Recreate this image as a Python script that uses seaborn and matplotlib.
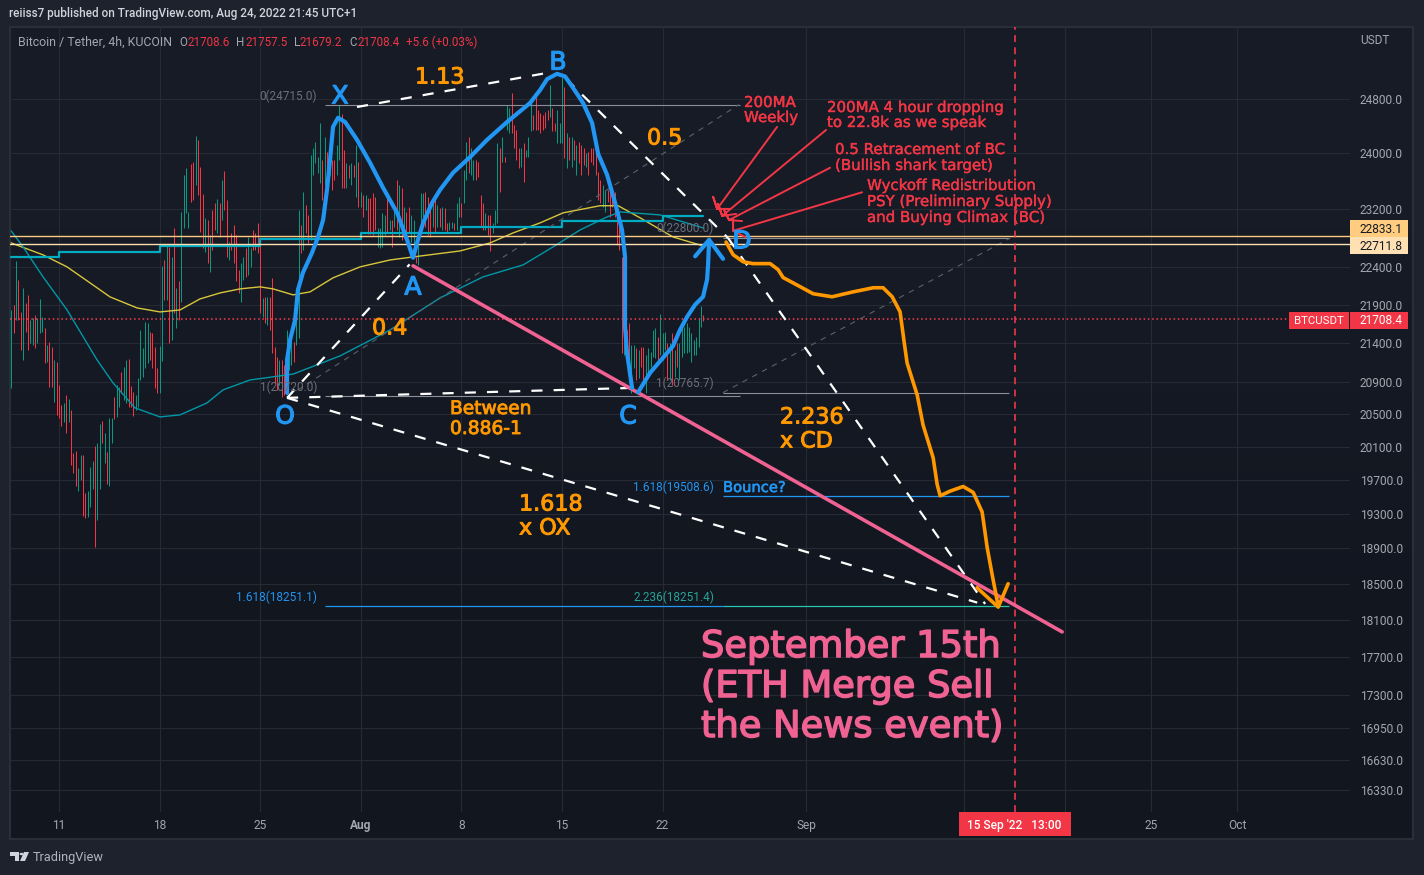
import numpy as np
import pandas as pd
import matplotlib
matplotlib.use("Agg")
import matplotlib.pyplot as plt
from matplotlib.colors import LinearSegmentedColormap
from matplotlib.ticker import NullLocator
import matplotlib.patheffects as pe
import seaborn as sns
from matplotlib.patches import Rectangle, Polygon, Circle

W, H = 1424, 875

# 4h candles, x is days since 1 Jul 2022
first_day = 6.67
highs = [
    21830, 21900, 22490, 22235, 21805, 22125, 21925, 22030, 21700, 21725,
    21765, 21725, 21975, 21740, 21595, 21375, 21415, 21350, 21180, 21155,
    20862, 20612, 20637, 20737, 20687, 20550, 20025, 20050, 19845, 20000,
    20000, 19545, 19570, 19855, 19930, 20110, 20145, 20375, 20410, 20265,
    20035, 20450, 20450, 20710, 20862, 20838, 21028, 21090, 21180, 21193,
    20850, 20775, 20737, 20950, 21570, 21335, 21675, 21660, 21545, 21530,
    21350, 21078, 21362, 22420, 22503, 22705, 22680, 22545, 22940, 22125,
    22210, 23160, 23690, 23790, 23160, 23845, 23870, 24250, 24195, 23800,
    23420, 23080, 23052, 22845, 23190, 23290, 23345, 23290, 23617, 23745,
    23332, 22750, 22870, 22983, 22845, 22369, 22465, 22545, 22665, 22815,
    22665, 22914, 22870, 23010, 22705, 21990, 22005, 22005, 22005, 22250,
    21350, 21220, 21180, 21180, 21115, 21570, 21505, 21440, 21415, 21700,
    23190, 22983, 23445, 23262, 23122, 23975, 24078, 24165, 23945, 24443,
    23903, 24240, 24020, 24050, 23903, 23903, 24120, 24710, 24575, 24050,
    23860, 23830, 23860, 23830, 24120, 23875, 23445, 23405, 23405, 23360,
    23360, 23430, 23375, 22940, 22940, 23150, 23122, 23405, 23052, 23052,
    23235, 23617, 23545, 23505, 23235, 23160, 23235, 23122, 23052, 22545,
    22885, 23430, 23430, 23445, 23375, 23235, 23332, 23332, 23262, 23220,
    23235, 23220, 23010, 23025, 23025, 23010, 23290, 23375, 23290, 23760,
    24165, 24240, 24078, 23903, 23903, 23875, 23405, 23290, 23150, 23122,
    23122, 23010, 23190, 24150, 24078, 24240, 23945, 24710, 24665, 24890,
    24413, 24340, 24078, 24078, 24150, 24050, 24240, 24755, 24560, 24830,
    24635, 24590, 24560, 24605, 24635, 25010, 24665, 24443, 24635, 24443,
    25165, 24985, 24295, 24240, 24240, 24195, 24120, 24165, 24120, 24078,
    24005, 24020, 24078, 24078, 24050, 23730, 23617, 23545, 23475, 23475,
    23590, 23445, 23445, 23235, 22983, 22545, 21610, 21570, 21660, 21375,
    21375, 21335, 21310, 21350, 21350, 21245, 21335, 21285, 21570, 21595,
    21480, 21780, 21530, 21545, 21400, 21400, 21530, 21310, 21400, 21400,
    21610, 21610, 21660, 21610, 21530, 21440, 21480, 21725, 21885, 21757.5,
]
lows = [
    20825, 21530, 21700, 21700, 21310, 21180, 21545, 21310, 21400, 21375,
    21335, 21400, 21530, 21545, 21140, 21155, 20835, 20835, 20650, 20487,
    20450, 20350, 20400, 20265, 20400, 19880, 19785, 19620, 19565, 19700,
    19275, 19250, 19265, 19380, 19590, 18910, 19228, 19590, 20145, 19905,
    19650, 19620, 20145, 20438, 20463, 20587, 20762, 20675, 20637, 20587,
    20587, 20475, 20550, 20587, 20925, 20965, 21078, 21140, 21180, 21078,
    20825, 20762, 20762, 21168, 21965, 21965, 21400, 21440, 21790, 21595,
    21700, 21940, 22940, 23150, 22940, 23305, 23332, 23545, 23405, 22885,
    22665, 22610, 22465, 22340, 22640, 22914, 22870, 22815, 23052, 23190,
    22545, 22503, 22640, 22465, 22210, 22055, 21940, 22235, 22275, 22302,
    22410, 22640, 22640, 22600, 21790, 21740, 21660, 21637, 21570, 21270,
    20888, 20800, 20862, 20710, 20737, 20925, 21053, 21115, 21155, 21375,
    21465, 22600, 22640, 22870, 22733, 22776, 23690, 23860, 23718, 23575,
    23332, 23545, 23660, 23690, 23475, 23617, 23690, 23903, 23505, 23505,
    23505, 23645, 23545, 23660, 23375, 23235, 23235, 23095, 23190, 22855,
    22855, 22845, 22914, 22680, 22665, 22680, 22845, 22870, 22914, 22680,
    22955, 22914, 22815, 22776, 22914, 22776, 22870, 22750, 22530, 22465,
    22436, 22870, 23095, 22955, 22845, 22815, 22955, 22885, 22955, 22955,
    22914, 22914, 22870, 22914, 22940, 22914, 22914, 23095, 23095, 23290,
    23617, 23718, 23690, 23617, 23617, 23660, 22955, 22914, 22914, 22845,
    22625, 22870, 22983, 23010, 23445, 23875, 23875, 24340, 24295, 24295,
    24078, 23903, 23790, 23800, 23590, 23945, 23945, 24325, 24340, 24340,
    24340, 24295, 24340, 24370, 24487, 24530, 24325, 24325, 24150, 24150,
    24150, 23930, 23790, 23903, 23800, 23903, 23690, 23860, 23690, 23830,
    23800, 23690, 23875, 23830, 23690, 23332, 23290, 23235, 23160, 23305,
    23095, 23235, 23095, 22705, 22640, 21270, 21245, 21270, 21053, 20762,
    21078, 20925, 20950, 21090, 20900, 20762, 20990, 21090, 21220, 21205,
    21180, 21245, 21180, 21310, 20925, 20925, 20862, 20965, 21090, 20925,
    21220, 21270, 21270, 21285, 21155, 21245, 21245, 21350, 21610, 21679.2,
]
directions = (
    "grgrrgrrgg" "rgggrgrrgr" "rrgrgrrrgg" "rrgggrggrg" "rggrggrggr"
    "rrggggggrr" "rrggrgrgrg" "rggggrrgrr" "rgrgrrgrgr" "rgrrrrggrg"
    "grrrrgrgrr" "rrgrrgggrg" "grgrrggggg" "rgrgrrggrr" "grgrgrgrgr"
    "rrrggggrgr" "grgrgrrggr" "gggrrrgrgr" "grrggrggrg" "grggrrrrgr"
    "rgggrgrggr" "rrrgrgggrr" "rrrrrgrrgg" "grgrgrgrrr" "grrrrrrggr"
    "rrrrrrgrrg" "grgrrggggg" "rgggrgrgrg" "gggggggggr"
)

# moving averages
yellow_days = [6.67, 8.89, 10.56, 12.16, 13.55, 15.43, 17.03, 18.42, 19.81, 21.21, 22.60, 23.99, 24.89, 26.29, 27.47,
               29.07, 30.95, 33.04, 34.64, 37.91, 40.00, 41.60, 43.48, 45.08, 47.65, 48.91, 50.44, 52.73, 54.82]
yellow_ma = [22733, 22569, 22406, 22190, 22003, 21857, 21804, 21830, 21976, 22056, 22110, 22137, 22110, 22030, 22070,
             22258, 22406, 22500, 22541, 22623, 22733, 22871, 23010, 23150, 23250, 23250, 23080, 22815, 22692]
teal_days = [6.67, 7.50, 8.89, 10.56, 12.65, 13.76, 15.29, 17.03, 18.42, 20.30, 21.41, 23.29, 26.29, 29.56,
             33.04, 36.52, 39.51, 42.30, 44.38, 46.26, 48.14, 49.05, 51.83, 54.82]
teal_ma = [22899, 22678, 22271, 21830, 21180, 20888, 20575, 20463, 20488, 20637, 20800, 20925, 21000, 21232,
           21568, 21990, 22271, 22433, 22678, 22912, 23093, 23163, 23121, 22940]
weekly_days = [6.67, 10, 17, 24, 31, 38, 45, 52, 54.85]
weekly_ma = [22541, 22610, 22692, 22788, 22871, 22955, 23037, 23107, 23107]

# hand drawn harmonic pattern
blue_days = [25.87, 25.87, 26.08, 26.43, 26.63, 26.98, 27.61, 28.03, 28.38, 28.65, 28.86, 29.07, 29.42, 29.91, 30.74,
             31.65, 32.55, 33.53, 34.22, 34.64, 34.92, 35.34, 35.96, 36.52, 37.42, 38.61, 39.79, 41.18, 42.78, 43.48,
             43.97, 44.66, 45.22, 45.78, 46.47, 47.10, 47.52, 48.14, 48.70, 49.18, 49.39, 49.39, 49.39, 49.53, 49.88]
blue_prices = [20762, 21180, 21440, 21700, 22100, 22330, 22600, 22815, 23052, 23475, 23903, 24385, 24520, 24457, 24195,
               23860, 23505, 23150, 22776, 22530, 22735, 23010, 23290, 23475, 23718, 23945, 24195, 24457, 24740, 24935,
               25100, 25180, 25140, 24965, 24740, 24443, 23990, 23690, 23290, 22914, 22545, 22055, 21610, 21270, 20825]
rebound_days = [50.30, 51.13, 51.97, 52.73, 53.22, 53.71, 54.27, 54.82, 55.10, 55.17, 55.24]
rebound_prices = [20770, 21015, 21195, 21360, 21570, 21740, 21900, 22005, 22235, 22436, 22775]
rebound_head_days = [54.27, 55.24, 56.21]
rebound_head_prices = [22550, 22775, 22515]

orange_days = [56.42, 56.91, 57.61, 58.30, 59.49, 60.04, 60.39, 61.57, 62.48, 63.80, 65.26, 66.66, 67.35, 67.98, 68.53,
               68.81, 69.02, 69.72, 70.13, 70.83, 71.11, 71.32, 72.01, 72.92, 73.62, 74.24, 74.59, 74.94, 75.36]
orange_prices = [22745, 22572, 22475, 22450, 22450, 22369, 22262, 22140, 22045, 22005, 22070, 22125, 22125, 22005, 21805,
                 21415, 21140, 20737, 20363, 19965, 19645, 19510, 19565, 19620, 19550, 19320, 18910, 18600, 18250]
orange_head_days = [73.89, 75.36, 76.05]
orange_head_prices = [18455, 18240, 18500]

pink_days = [34.64, 79.81]
pink_prices = [22420, 17969]

# pattern pivots for the dashed legs
leg_days = {"XB": [30.74, 44.38], "BD": [45.30, 56.56], "DE": [56.56, 74.45], "OA": [25.87, 34.40],
            "OC": [25.87, 49.88], "OE": [25.87, 73.90]}
leg_prices = {"XB": [24680, 25210], "BD": [25100, 22800], "DE": [22800, 18275], "OA": [20700, 22440],
              "OC": [20700, 20825], "OE": [20700, 18290]}

# fib levels from the two tools
left_fib_days = [28.5, 57.4]
left_fib_levels = [24715.0, 20720.0]
right_fib_days = [56.2, 76.1]
right_fib_levels = [22800.0, 20765.7]
bounce_level = 19508.6
target_days = [28.5, 56.2, 76.1]
target_levels = [18251.1, 18251.4]
diag_days = [[25.95, 57.3], [56.2, 76.2]]
diag_prices = [[20720, 24715], [20765.7, 22800]]

# red arrows: tail, tip, leg, tip, leg
arrow_days = [[59.97, 55.80, 55.52, 55.80, 56.70], [63.38, 56.15, 55.87, 56.15, 57.12],
              [63.66, 56.63, 56.28, 56.63, 57.54], [65.89, 56.91, 56.91, 56.91, 57.75]]
arrow_prices = [[24385, 23205, 23375, 23205, 23205], [24340, 23107, 23275, 23107, 23135],
                [23790, 23050, 23190, 23050, 23035], [23440, 22900, 23050, 22900, 22815]]

last_price = 21708.4
resistance_a = 22833.1
resistance_b = 22711.8
merge_day = 76.54

price_ticks = [24800, 24000, 23200, 22400, 21900, 21400, 20900, 20500, 20100, 19700, 19300, 18900, 18500, 18100,
               17700, 17300, 16950, 16630, 16330]
date_ticks = [10, 17, 24, 31, 38, 45, 52, 62, 73, 80, 86, 92]
date_labels = ["11", "18", "25", "Aug", "8", "15", "22", "Sep", "", "", "25", "Oct"]

CHROME = "#1e222d"
GRID = "#262a35"
AXIS_TEXT = "#a4a7b0"
BLUE = "#2196f3"
ORANGE = "#ff9800"
RED = "#f23645"
PINK = "#f06292"
GREEN = "#089981"
TEAL_FIB = "#26c6b0"
TICK_FONT = "Roboto"

sns.set_theme(style="dark", rc={"figure.facecolor": CHROME, "axes.facecolor": "#151924", "font.family": "DejaVu Sans",
                                "axes.edgecolor": "#151924", "axes.grid": False})

fig = plt.figure(figsize=(W / 100, H / 100), dpi=100)


def px(x, y):
    return x / W, 1 - y / H


def label(x, y, s, color, size, family="DejaVu Sans", ha="left", weight="normal", stroke=0):
    # drawn notes sit a touch lower than their centre box
    if family == "DejaVu Sans":
        y += 1.5
    t = fig.text(*px(x, y), s, color=color, fontsize=size, family=family, ha=ha, va="center", weight=weight, zorder=20)
    if stroke:
        t.set_path_effects([pe.withStroke(linewidth=stroke, foreground=color)])


def box(x0, y0, x1, y1, color):
    fig.add_artist(Rectangle(px(x0, y1), (x1 - x0) / W, (y1 - y0) / H, transform=fig.transFigure,
                             facecolor=color, edgecolor="none", zorder=15))


def line(ax, x, y, color, width, **kw):
    sns.lineplot(x=x, y=y, sort=False, estimator=None, errorbar=None, color=color, linewidth=width, ax=ax, legend=False,
                 solid_joinstyle="round", solid_capstyle="round", **kw)


# panel background fades slightly towards the bottom
bg = fig.add_axes([10 / W, 1 - 839 / H, 1403 / W, 812 / H], zorder=-2)
bg.imshow([[0.0], [1.0]], cmap=LinearSegmentedColormap.from_list("panel", ["#171b26", "#12161f"]), aspect="auto",
          interpolation="bilinear")
bg.set_xticks([])
bg.set_yticks([])
for spine in bg.spines.values():
    spine.set_color("#2a2e39")
    spine.set_linewidth(1.5)

left, top, right, bottom = 10, 27, 1350, 812
ax = fig.add_axes([left / W, 1 - bottom / H, (right - left) / W, (bottom - top) / H])
ax.patch.set_alpha(0)

# candles
candles = pd.DataFrame({"high": highs, "low": lows, "dir": list(directions)})
candles["day"] = first_day + np.arange(len(candles)) / 6
for code, colour in (("g", GREEN), ("r", RED)):
    part = candles[candles["dir"] == code]
    wicks = ax.vlines(part["day"], part["low"], part["high"], color=colour, linewidth=0.72, zorder=2)
    wicks.set_snap(True)

# indicators
line(ax, yellow_days, yellow_ma, "#d8c63a", 1.0, zorder=3)
line(ax, teal_days, teal_ma, "#0097a7", 1.0, zorder=3)
ax.step(weekly_days, weekly_ma, where="post", color="#00acc1", linewidth=1.6, zorder=3)

# levels
ax.axhline(last_price, color="#ff3b4e", linewidth=1.1, linestyle=(0, (1, 1.8)), zorder=3, xmax=0.955)
ax.axhline(resistance_a, color="#ffcc80", linewidth=1.0, zorder=4)
ax.axhline(resistance_b, color="#ffe0b2", linewidth=1.0, zorder=4)
ax.axvline(merge_day, color="#ff3b4e", linewidth=1.1, linestyle=(0, (4.5, 3.5)), zorder=4)

for level in left_fib_levels:
    ax.hlines(level, left_fib_days[0], left_fib_days[1], color="#8b8e98", linewidth=0.8, zorder=3)
for level in right_fib_levels:
    ax.hlines(level, right_fib_days[0], right_fib_days[1], color="#8b8e98", linewidth=0.8, zorder=3)
ax.hlines(bounce_level, right_fib_days[0], right_fib_days[1], color=BLUE, linewidth=0.9, zorder=3)
ax.hlines(target_levels[0], target_days[0], target_days[1], color=BLUE, linewidth=0.9, zorder=3)
ax.hlines(target_levels[1], target_days[1], target_days[2], color=TEAL_FIB, linewidth=0.9, zorder=3)
for dx, dy in zip(diag_days, diag_prices):
    line(ax, dx, dy, "#5d606b", 0.8, linestyle=(0, (5, 5)), zorder=3)

# pattern
for leg in leg_days:
    line(ax, leg_days[leg], leg_prices[leg], "white", 1.6, linestyle=(0, (5, 5)), zorder=5)
line(ax, pink_days, pink_prices, PINK, 2.6, zorder=6)
line(ax, blue_days, blue_prices, BLUE, 3.0, zorder=7)
line(ax, rebound_days, rebound_prices, BLUE, 3.0, zorder=7)
line(ax, rebound_head_days, rebound_head_prices, BLUE, 3.0, zorder=7)
line(ax, orange_days, orange_prices, ORANGE, 2.6, zorder=7)
line(ax, orange_head_days, orange_head_prices, ORANGE, 2.6, zorder=7)
for dx, dy in zip(arrow_days, arrow_prices):
    line(ax, dx, dy, RED, 1.4, zorder=8)

ax.set_yscale("log")
ax.set_xlim(6.59, 99.84)
ax.set_ylim(16115, 25903)
ax.set_yticks(price_ticks)
ax.set_yticklabels([f"{p:.1f}" for p in price_ticks], family=TICK_FONT, fontsize=8.6, color=AXIS_TEXT)
ax.yaxis.set_minor_locator(NullLocator())
ax.yaxis.tick_right()
ax.set_xticks(date_ticks)
ax.set_xticklabels(date_labels, family=TICK_FONT, fontsize=8.6, color=AXIS_TEXT)
ax.get_xticklabels()[3].set_fontweight("bold")
ax.tick_params(axis="both", length=0)
ax.tick_params(axis="y", pad=7)
ax.tick_params(axis="x", pad=5)
ax.grid(True, color=GRID, linewidth=0.8)
ax.set_axisbelow(True)
for spine in ax.spines.values():
    spine.set_visible(False)
ax.set_xlabel("")
ax.set_ylabel("")

# page header
label(9, 14, "reiiss7 published on TradingView.com, Aug 24, 2022 21:45 UTC+1", "#d1d4dc", 8.5, TICK_FONT, weight="medium")
label(18, 42, "Bitcoin / Tether, 4h, KUCOIN", "#a4a7b0", 8.9, TICK_FONT)
for x, s, c in [(179, "O", "#a4a7b0"), (187, "21708.6", RED), (236, "H", "#a4a7b0"), (245, "21757.5", RED),
                (294, "L", "#a4a7b0"), (300, "21679.2", RED), (349, "C", "#a4a7b0"), (357, "21708.4", RED),
                (406, "+5.6 (+0.03%)", RED)]:
    label(x, 42, s, c, 8.4, TICK_FONT)
label(1360, 41, "USDT", AXIS_TEXT, 8.6, TICK_FONT)

# price tags
box(1350, 220, 1408, 237, "#ffcc80")
box(1350, 237, 1408, 254, "#ffe0b2")
box(1350, 312, 1408, 329, RED)
box(1289, 312, 1349, 329, RED)
label(1360, 229, "22833.1", "#131722", 8.6, TICK_FONT)
label(1360, 246, "22711.8", "#131722", 8.6, TICK_FONT)
label(1360, 321, "21708.4", "white", 8.6, TICK_FONT)
label(1294, 321, "BTCUSDT", "white", 8.2, TICK_FONT)
box(959, 812, 1071, 836, RED)
label(967, 826, "15 Sep '22   13:00", "white", 8.6, TICK_FONT, weight="medium")

# fib labels
label(317, 96, "0(24715.0)", "#6d707b", 8.5, TICK_FONT, ha="right")
label(317, 387, "1(20720.0)", "#6d707b", 8.5, TICK_FONT, ha="right")
label(317, 597, "1.618(18251.1)", BLUE, 8.5, TICK_FONT, ha="right")
label(714, 597, "2.236(18251.4)", "#26a69a", 8.5, TICK_FONT, ha="right")
label(714, 487, "1.618(19508.6)", BLUE, 8.5, TICK_FONT, ha="right")
label(714, 228, "0(22800.0)", "#6d707b", 8.5, TICK_FONT, ha="right")
label(714, 383, "1(20765.7)", "#6d707b", 8.5, TICK_FONT, ha="right")
label(723, 486, "Bounce?", BLUE, 10.6, stroke=0.4)

# pattern letters
for x, y, s in [(340, 95, "X"), (558, 61, "B"), (413, 286, "A"), (285, 415, "O"), (628, 415, "C"), (742, 240, "D")]:
    label(x, y, s, BLUE, 18, ha="center", stroke=0.9)

# ratios
for x, y, s in [(415, 76, "1.13"), (647, 137, "0.5"), (372, 327, "0.4"), (780, 416, "2.236"), (780, 440, "x CD"),
                (519, 503, "1.618"), (519, 527, "x OX")]:
    label(x, y, s, ORANGE, 16, stroke=0.7)
label(450, 407, "Between", ORANGE, 13.4, stroke=0.6)
label(450, 427, "0.886-1", ORANGE, 13.4, stroke=0.6)

# notes
for x, y, s in [(744, 101, "200MA"), (744, 116, "Weekly"), (827, 106, "200MA 4 hour dropping"), (827, 121, "to 22.8k as we speak"),
                (835, 148, "0.5 Retracement of BC"), (835, 164, "(Bullish shark target)"), (867, 184, "Wyckoff Redistribution"),
                (867, 200, "PSY (Preliminary Supply)"), (867, 216, "and Buying Climax (BC)")]:
    label(x, y, s, RED, 10.8, stroke=0.3)

label(701, 645, "September 15th", PINK, 26.5, stroke=1.1)
label(701, 685, "(ETH Merge Sell", PINK, 26.5, stroke=1.1)
label(701, 725, "the News event)", PINK, 26.5, stroke=1.1)

# logo and footer
fig.add_artist(Polygon([px(10, 852), px(19, 852), px(19, 861), px(15, 861), px(15, 856), px(10, 856)],
                       transform=fig.transFigure, facecolor="#d1d4dc", edgecolor="none"))
fig.add_artist(Circle(px(21.5, 854), 2 / W, transform=fig.transFigure, facecolor="#d1d4dc", edgecolor="none"))
fig.add_artist(Polygon([px(24, 852), px(29, 852), px(25, 861), px(20, 861)], transform=fig.transFigure,
                       facecolor="#d1d4dc", edgecolor="none"))
label(33, 857, "TradingView", "#b2b5be", 9.2, TICK_FONT)

fig.savefig("out.png", dpi=100, facecolor=CHROME)
